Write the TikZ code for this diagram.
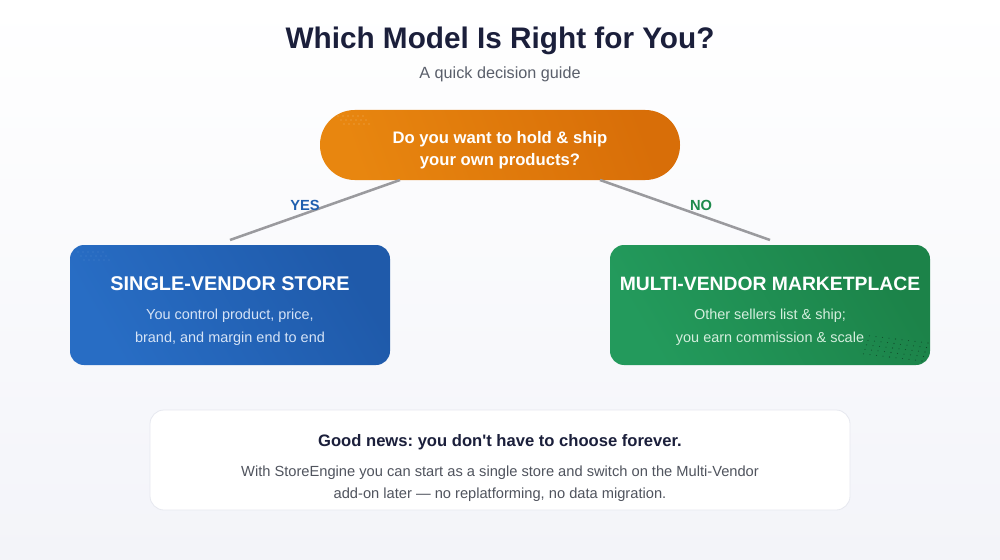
\documentclass[tikz,border=0pt]{standalone}
\usepackage{fontspec}
\setmainfont{Liberation Sans}
\frenchspacing
\definecolor{orA}{HTML}{E8860F}
\definecolor{orB}{HTML}{D86E08}
\definecolor{blA}{HTML}{286DC4}
\definecolor{blB}{HTML}{1F5AAA}
\definecolor{grA}{HTML}{239A5C}
\definecolor{grB}{HTML}{1C8349}
\definecolor{ttl}{HTML}{1B1F3B}
\definecolor{subc}{HTML}{5A5F6B}
\definecolor{yesc}{HTML}{1F5FAF}
\definecolor{noc}{HTML}{1E8A4C}
\definecolor{linec}{HTML}{9A9A9E}
\definecolor{bodyb}{HTML}{D5E3F6}
\definecolor{bodyg}{HTML}{D4EEDD}
\definecolor{grayt}{HTML}{50545E}
\definecolor{bgbot}{HTML}{F3F4F9}
\definecolor{cardbd}{HTML}{E6E8EF}
\begin{document}
\begin{tikzpicture}[x=0.75pt,y=-0.75pt,
  txt/.style={inner sep=0pt,align=center},
  choice/.style={draw=none,rounded corners=10.5pt,minimum width=240pt,minimum height=90pt,inner sep=0pt},
  conn/.style={draw=linec,line width=1.9pt},
  answ/.style={txt,font=\bfseries\fontsize{11pt}{12pt}\selectfont}
]
\useasboundingbox (0,0) rectangle (1000,560);
\shade[top color=white,bottom color=bgbot] (0,0) rectangle (1000,560);

% title
\node[txt,text=ttl,font=\bfseries\fontsize{22.3pt}{26pt}\selectfont] (title) at (500,41) {Which Model Is Right for You?};
\node[txt,text=subc,font=\fontsize{12.15pt}{14pt}\selectfont] (sub) at (500,74) {A quick decision guide};

% question pill
\node[draw=none,rounded corners=26pt,minimum width=270pt,minimum height=52.5pt,inner sep=0pt,
  left color=orA,right color=orB,shading angle=110] (q) at (500,145) {};
\node[txt,text=white,font=\bfseries\fontsize{12.5pt}{16.5pt}\selectfont] (qt) at (500,150.5) {Do you want to hold \& ship\\your own products?};

% boxes
\node[choice,left color=blA,right color=blB,shading angle=120] (sv) at (230,305) {};
\node[choice,left color=grA,right color=grB,shading angle=120] (mv) at (770,305) {};

\node[txt,text=white,font=\bfseries\fontsize{14.9pt}{16pt}\selectfont] (svt) at (230,283.5) {SINGLE-VENDOR STORE};
\node[txt,text=bodyb,font=\fontsize{10.85pt}{17pt}\selectfont] (svb) at (230,327.5) {You control product, price,\\brand, and margin end to end};

\node[txt,text=white,font=\bfseries\fontsize{14.5pt}{16pt}\selectfont] (mvt) at (770,283.5) {MULTI-VENDOR MARKETPLACE};
\node[txt,text=bodyg,font=\fontsize{10.85pt}{17pt}\selectfont] (mvb) at (770,327.5) {Other sellers list \& ship;\\you earn commission \& scale};

% connectors
\coordinate (qL) at (400,180);
\coordinate (qR) at (600,180);
\coordinate (svTop) at (230,240);
\coordinate (mvTop) at (770,240);
\draw[conn] (qL) -- (svTop);
\draw[conn] (qR) -- (mvTop);
\node[answ,text=yesc] (yes) at (305,205) {YES};
\node[answ,text=noc] (no) at (701,205) {NO};

% bottom card
\node[draw=cardbd,line width=0.6pt,fill=white,rounded corners=10.5pt,minimum width=525pt,minimum height=75pt,inner sep=0pt] (card) at (500,460) {};
\node[txt,text=ttl,font=\bfseries\fontsize{12.45pt}{14pt}\selectfont] (ct) at (500,442) {Good news: you don\textquotesingle t have to choose forever.};
\node[txt,text=grayt,font=\fontsize{11pt}{16.5pt}\selectfont] (cb) at (500,483.5) {With StoreEngine you can start as a single store and switch on the Multi-Vendor\\add-on later --- no replatforming, no data migration.};

% faint dot accents
\foreach \i in {0,...,5}{\foreach \j in {0,...,2}{
  \fill[white,opacity=0.35] (338+\i*5+\j*3,116+\j*4) circle (0.5pt);
  \fill[white,opacity=0.15] (78+\i*5+\j*3,252+\j*4) circle (0.5pt);
}}
\foreach \i in {0,...,9}{\foreach \j in {0,...,4}{
  \pgfmathsetmacro{\xx}{922-\i*6.5+\j*1.5}
  \pgfmathsetmacro{\yy}{361-\j*4.5-\i*0.8}
  \fill[black,opacity=0.45] (\xx,\yy) circle (0.4pt);
}}
\end{tikzpicture}
\end{document}
